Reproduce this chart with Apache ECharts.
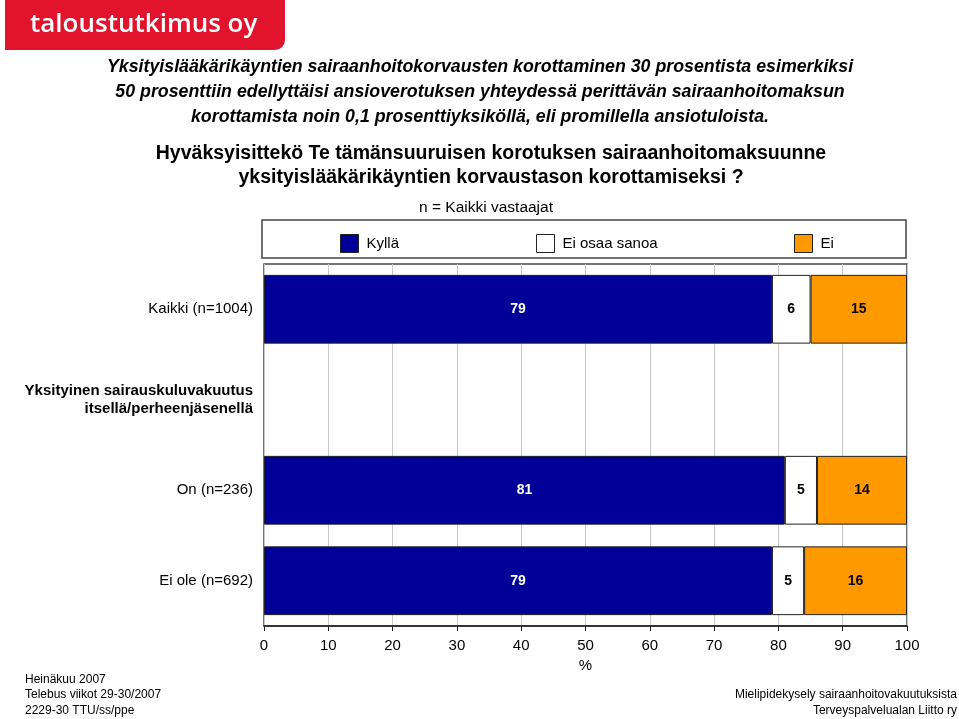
<!DOCTYPE html>
<html><head><meta charset="utf-8">
<script src="https://cdn.jsdelivr.net/npm/echarts@6/dist/echarts.min.js"></script>
<style>html,body{margin:0;padding:0;background:#fff}#c{width:959px;height:719px}</style>
</head><body><div id="c"></div>
<script>
const categories = ['Kaikki (n=1004)', 'Yksityinen sairauskuluvakuutus\nitsellä/perheenjäsenellä', 'On (n=236)', 'Ei ole (n=692)'];
const seriesNames = ['Kyllä', 'Ei osaa sanoa', 'Ei'];
const kylla = [79, null, 81, 79];
const eiOsaa = [6, null, 5, 5];
const ei = [15, null, 14, 16];
const xTicks = [0, 10, 20, 30, 40, 50, 60, 70, 80, 90, 100];

const colors = ['#000099', '#ffffff', '#ff9900'];
const chart = echarts.init(document.getElementById('c'), null, {renderer: 'canvas'});
const F = '"Liberation Sans", Arial, sans-serif';

function mkSeries(name, data, idx) {
  return {
    name: name, type: 'bar', stack: 'all', data: data, barWidth: '76%',
    itemStyle: {color: colors[idx], borderColor: '#222', borderWidth: 1},
    label: {show: true, position: 'inside', fontFamily: F, fontWeight: 'bold', fontSize: 14,
      color: idx === 0 ? '#fff' : '#000'},
    emphasis: {disabled: true}
  };
}

const legendLefts = [335, 531, 789];
chart.setOption({
  animation: false,
  title: [
    {text: 'Yksityislääkärikäyntien sairaanhoitokorvausten korottaminen 30 prosentista esimerkiksi\n50 prosenttiin edellyttäisi ansioverotuksen yhteydessä perittävän sairaanhoitomaksun\nkorottamista noin 0,1 prosenttiyksiköllä, eli promillella ansiotuloista.',
     left: 475, top: 50, textAlign: 'center',
     textStyle: {fontFamily: F, fontStyle: 'italic', fontWeight: 'bold', fontSize: 17.8, lineHeight: 25, color: '#000', align: 'center'}},
    {text: 'Hyväksyisittekö Te tämänsuuruisen korotuksen sairaanhoitomaksuunne\nyksityislääkärikäyntien korvaustason korottamiseksi ?',
     left: 486, top: 137, textAlign: 'center',
     textStyle: {fontFamily: F, fontWeight: 'bold', fontSize: 19.5, lineHeight: 24, color: '#000', align: 'center'}},
    {text: 'n = Kaikki vastaajat', left: 481, top: 195, textAlign: 'center',
     textStyle: {fontFamily: F, fontWeight: 'normal', fontSize: 15.5, color: '#000'}}
  ],
  legend: seriesNames.map((n, i) => ({
    data: [n], left: legendLefts[i], top: 229, itemWidth: 18, itemHeight: 18, itemGap: 10,
    selectedMode: false, icon: 'rect',
    itemStyle: {borderColor: '#222', borderWidth: 1},
    textStyle: {fontFamily: F, fontSize: 15, color: '#000', padding: [0, 0, 0, 3]}
  })),
  grid: {left: 264, right: 52, top: 264, bottom: 93, show: true, borderColor: '#444', borderWidth: 1.5},
  xAxis: {
    type: 'value', min: 0, max: 100, interval: 10,
    name: '%', nameLocation: 'middle', nameGap: 32,
    nameTextStyle: {fontFamily: F, fontSize: 15, color: '#000'},
    axisLine: {show: true, lineStyle: {color: '#222', width: 1.5}},
    axisTick: {show: true, length: 5, lineStyle: {color: '#222'}},
    axisLabel: {fontFamily: F, fontSize: 15, color: '#000', margin: 12,
      formatter: v => xTicks.includes(v) ? String(v) : ''},
    splitLine: {show: true, lineStyle: {color: '#c8c8c8', width: 1}}
  },
  yAxis: {
    type: 'category', data: categories, inverse: true,
    axisLine: {show: false}, axisTick: {show: false},
    axisLabel: {fontFamily: F, fontSize: 15, color: '#000', margin: 11, lineHeight: 18, align: 'right',
      formatter: (v, i) => i === 1 ? v.split('\n').map(l => '{b|' + l + '}').join('\n') : v,
      rich: {b: {fontFamily: F, fontWeight: 'bold', fontSize: 15, lineHeight: 18, color: '#000'}}}
  },
  series: [mkSeries(seriesNames[0], kylla, 0), mkSeries(seriesNames[1], eiOsaa, 1), mkSeries(seriesNames[2], ei, 2)],
  graphic: [
    {type: 'rect', shape: {x: 5, y: -10, width: 280, height: 60, r: [0, 0, 10, 0]}, style: {fill: '#e2142d'}},
    {type: 'text', style: {x: 30, y: 25, text: 'taloustutkimus oy', fill: '#fff', font: '600 26px "Open Sans", sans-serif', textVerticalAlign: 'middle'}},
    {type: 'rect', shape: {x: 262, y: 220, width: 644, height: 38}, style: {fill: 'none', stroke: '#444', lineWidth: 1.5}, z: -1},
    {type: 'text', style: {x: 25, y: 680, text: 'Heinäkuu 2007', fill: '#000', font: '12px ' + F, textVerticalAlign: 'middle'}},
    {type: 'text', style: {x: 25, y: 695, text: 'Telebus viikot 29-30/2007', fill: '#000', font: '12px ' + F, textVerticalAlign: 'middle'}},
    {type: 'text', style: {x: 25, y: 711, text: '2229-30 TTU/ss/ppe', fill: '#000', font: '12px ' + F, textVerticalAlign: 'middle'}},
    {type: 'text', style: {x: 957, y: 695, text: 'Mielipidekysely sairaanhoitovakuutuksista', fill: '#000', font: '12px ' + F, textAlign: 'right', textVerticalAlign: 'middle'}},
    {type: 'text', style: {x: 957, y: 711, text: 'Terveyspalvelualan Liitto ry', fill: '#000', font: '12px ' + F, textAlign: 'right', textVerticalAlign: 'middle'}}
  ]
});
</script></body></html>
